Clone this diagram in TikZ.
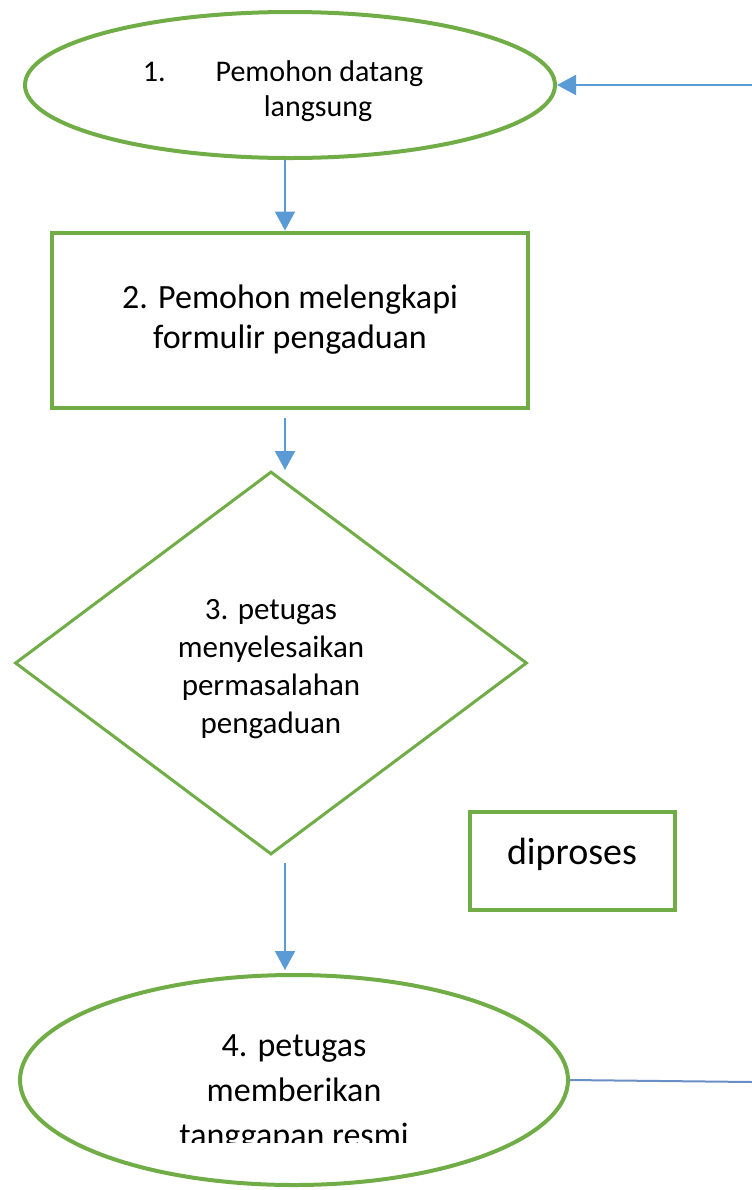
\documentclass[tikz,border=0pt]{standalone}
\usepackage{fontspec}
\setmainfont{Carlito}
\usepackage{tikz}
\usetikzlibrary{shapes.geometric,arrows.meta,positioning}
\definecolor{flowgreen}{HTML}{70AD47}
\definecolor{flowblue}{HTML}{5B9BD5}
\definecolor{linkblue}{HTML}{6A8FC4}

\begin{document}
\begin{tikzpicture}[
    x=1bp, y=-1bp,
    >={Triangle[length=19bp,width=20bp]},
    oval/.style={
        ellipse,
        draw=flowgreen,
        line width=4bp,
        inner sep=0pt,
        align=center
    },
    box/.style={
        rectangle,
        draw=flowgreen,
        line width=4bp,
        inner sep=0pt,
        align=center
    },
    decision/.style={
        diamond,
        draw=flowgreen,
        line width=3bp,
        inner sep=0pt,
        align=center
    },
    arr/.style={->, draw=flowblue, line width=2bp},
    link/.style={draw=linkblue, line width=2bp}
]
\useasboundingbox (0,0) rectangle (752,1190);

% main flow, top to bottom
\node[oval, minimum width=530bp, minimum height=146bp] (datang) at (290,85) {};
\node[align=left, font=\fontsize{30bp}{35bp}\selectfont] (datangtxt) at (283,91)
      {1.\hspace{50bp}Pemohon datang\\\hspace*{121bp}langsung};
\node[box, minimum width=475bp, minimum height=175bp,
      font=\fontsize{34bp}{40bp}\selectfont] (formulir) at (290,320)
      {2. Pemohon melengkapi\\formulir pengaduan};
\node[decision, minimum width=512bp, minimum height=383bp,
      font=\fontsize{31bp}{38bp}\selectfont] (selesai) at (271,663)
      {\\[-6bp]3. petugas\\menyelesaikan\\permasalahan\\pengaduan};
\node[oval, minimum width=548bp, minimum height=210bp] (tanggapan) at (294,1080) {};

% text of the last step, cut off at the bottom
\begin{scope}
\clip (0,0) rectangle (752,1142);
\node[font=\fontsize{34bp}{45bp}\selectfont, align=center] (jawab) at (294,1093)
      {4. petugas\\memberikan\\tanggapan resmi};
\end{scope}

% side box
\node[box, minimum width=205bp, minimum height=98bp, text depth=20bp,
      font=\fontsize{38bp}{44bp}\selectfont] (diproses) at (572,861) {diproses};

% connectors
\coordinate (spine) at (285,0);
\coordinate (masuk) at (752,85);
\coordinate (keluar) at (752,1082);
\draw[arr] (masuk) -- (datang.east);
\draw[arr] (datang.south -| spine) -- (formulir.north -| spine);
\draw[arr, shorten <=8bp] (formulir.south -| spine) -- (selesai.north -| spine);
\draw[arr, shorten <=7bp, shorten >=3bp] (selesai.south -| spine) -- (tanggapan.north -| spine);
\draw[link] (tanggapan.east) -- (keluar);

\end{tikzpicture}
\end{document}
